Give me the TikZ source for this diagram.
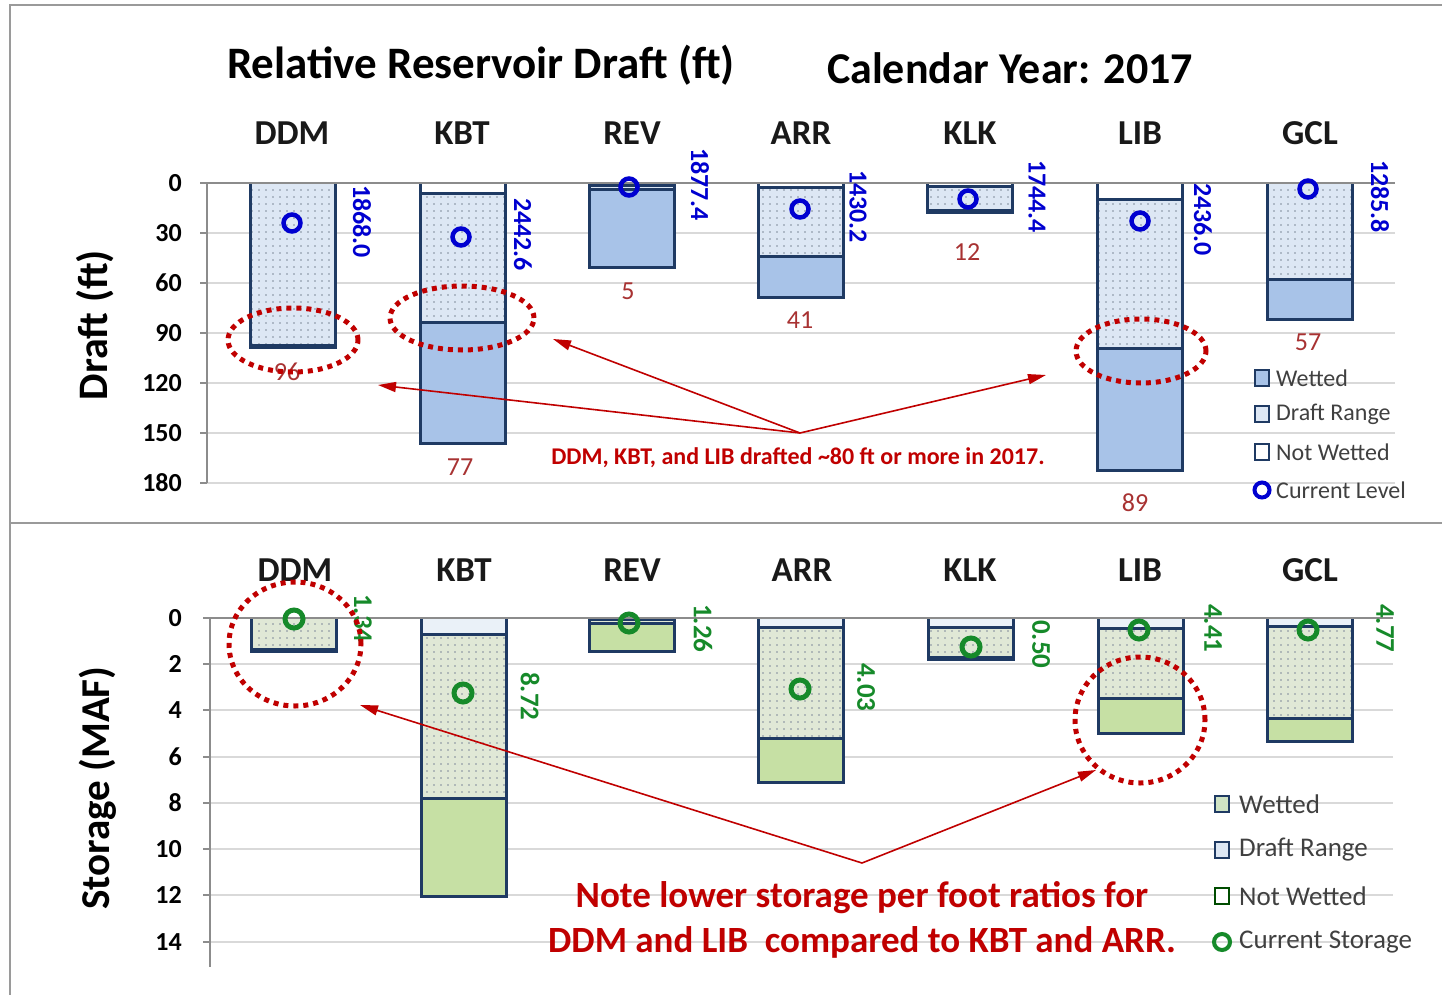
\documentclass[tikz,border=0pt]{standalone}
\usepackage{fontspec}
\setmainfont{Carlito}
\usetikzlibrary{patterns.meta,arrows.meta,shapes.geometric}
\definecolor{frameG}{HTML}{9A9A9A}
\definecolor{gridG}{HTML}{D9D9D9}
\definecolor{axisG}{HTML}{8C8C8C}
\definecolor{navy}{HTML}{1F3A63}
\definecolor{wetB}{HTML}{A8C3E8}
\definecolor{drB}{HTML}{DDE7F4}
\definecolor{wetG}{HTML}{C6E0A4}
\definecolor{drG}{HTML}{E0E8D6}
\definecolor{nwG}{HTML}{EAF1F8}
\definecolor{valB}{HTML}{0000D0}
\definecolor{valG}{HTML}{168A2A}
\definecolor{numR}{HTML}{A83232}
\definecolor{noteR}{HTML}{C00000}
\definecolor{legT}{HTML}{404040}
\definecolor{dotC}{HTML}{7F8A9A}
\newcommand\resbar[8]{%
  \fill[#8] (#1,#2) rectangle (#1+85,#3);
  \fill[#7] (#1,#3) rectangle (#1+85,#4);
  \fill[pattern={Dots[distance=7pt,radius=0.9pt]},pattern color=dotC] (#1,#3) rectangle (#1+85,#4);
  \fill[#6] (#1,#4) rectangle (#1+85,#5);
  \draw[barline] (#1,#2) -- (#1,#5) -- (#1+85,#5) -- (#1+85,#2);
  \ifdim#2pt=#3pt\else\draw[barline] (#1,#3) -- (#1+85,#3);\fi
  \draw[barline] (#1,#4) -- (#1+85,#4);
}
\tikzset{
  barline/.style={draw=navy, line width=3pt},
  gridl/.style={draw=gridG, line width=1.3pt},
  axisl/.style={draw=axisG, line width=1.4pt},
  cat/.style={font=\bfseries\fontsize{35}{35}\selectfont, text=black!90, inner sep=0},
  tick/.style={font=\bfseries\fontsize{26}{26}\selectfont, anchor=east, inner sep=0},
  valb/.style={font=\bfseries\fontsize{26}{26}\selectfont, text=valB, rotate=-90, anchor=west, inner sep=0},
  valg/.style={font=\bfseries\fontsize{27}{27}\selectfont, text=valG, rotate=-90, anchor=west, inner sep=0},
  numr/.style={font=\fontsize{26}{26}\selectfont, text=numR, inner sep=0},
  curB/.style={circle, draw=valB, line width=4.5pt, minimum size=17pt, inner sep=0},
  curG/.style={circle, draw=valG, line width=5pt, minimum size=18pt, inner sep=0},
  ell/.style={ellipse, draw=noteR, line width=5pt, dash pattern=on 5pt off 5pt, inner sep=0},
  redarrow/.style={draw=noteR, line width=1.6pt, -{Triangle[length=18pt,width=10pt]}},
  legsq/.style={rectangle, draw=navy, line width=2.2pt, minimum width=14pt, minimum height=16pt, inner sep=0},
  legtxt/.style={anchor=west, text=legT, inner sep=0},
  ytitle/.style={font=\bfseries\fontsize{42}{42}\selectfont, rotate=90, inner sep=0},
}
\begin{document}
\begin{tikzpicture}[x=1pt,y=-1pt]
\useasboundingbox (0,0) rectangle (1442,995);
\fill[white] (0,0) rectangle (1442,995);
% frame
\draw[draw=frameG, line width=2pt] (10,995) -- (10,5) -- (1442,5);
\draw[draw=frameG, line width=2pt] (10,523) -- (1442,523);
% titles
\node[font=\bfseries\fontsize{45}{45}\selectfont, inner sep=0] (title) at (481,65) {Relative Reservoir Draft (ft)};
\node[font=\bfseries\fontsize{44}{44}\selectfont, inner sep=0] (year) at (1010,68) {Calendar Year: 2017};
% ---------------- top chart grid
\foreach \v/\y in {30/233,60/283,90/333,120/383,150/433,180/483}{
  \draw[gridl] (207,\y) -- (1395,\y);
  \draw[axisl] (200,\y) -- (207,\y);
}
\draw[axisl] (207,183) -- (207,483);
\foreach \v/\y in {0/183,30/233,60/283,90/333,120/383,150/433,180/483}{
  \node[tick] (tt\v) at (182,\y) {\v};
}
\node[ytitle] (ytT) at (95,325) {Draft (ft)};
% top bars
\resbar{250}{183}{183}{345}{347}{wetB}{drB}{white}
\resbar{420}{183}{194}{322}{443}{wetB}{drB}{white}
\resbar{589}{183}{186}{190}{267}{wetB}{drB}{white}
\resbar{758}{183}{188}{256}{297}{wetB}{drB}{white}
\resbar{927}{183}{187}{210}{212}{wetB}{drB}{white}
\resbar{1097}{183}{200}{348}{470}{wetB}{drB}{white}
\resbar{1267}{183}{183}{279}{319}{wetB}{drB}{white}
\draw[axisl] (200,183) -- (1395,183);
% categories top
\foreach \n/\x in {DDM/292,KBT/462,REV/632,ARR/801,KLK/970,LIB/1140,GCL/1310}{
  \node[cat] (ct\n) at (\x,133) {\n};
}
% current level markers
\node[curB] (cl1) at (292,223) {};
\node[curB] (cl2) at (461,237) {};
\node[curB] (cl3) at (629,187) {};
\node[curB] (cl4) at (800,209) {};
\node[curB] (cl5) at (968,199) {};
\node[curB] (cl6) at (1140,221) {};
\node[curB] (cl7) at (1308,189) {};
% elevation labels
\node[valb] (el1) at (362,185) {1868.0};
\node[valb] (el2) at (523,198) {2442.6};
\node[valb] (el3) at (700,148) {1877.4};
\node[valb] (el4) at (858,170) {1430.2};
\node[valb] (el5) at (1037,160) {1744.4};
\node[valb] (el6) at (1203,183) {2436.0};
\node[valb] (el7) at (1380,160) {1285.8};
% draft numbers
\node[numr] (dn1) at (287,372) {96};
\node[numr] (dn2) at (460,467) {77};
\node[numr] (dn3) at (628,291) {5};
\node[numr] (dn4) at (800,320) {41};
\node[numr] (dn5) at (967,252) {12};
\node[numr] (dn6) at (1135,503) {89};
\node[numr] (dn7) at (1308,342) {57};
% legend top
\node[legsq, fill=wetB] (lq1) at (1262,378) {};
\node[legsq, fill=drB] (lq2) at (1262,414) {};
\node[legsq, fill=white] (lq3) at (1262,452) {};
\node[circle, draw=valB, line width=4pt, minimum size=15pt, inner sep=0] (lq4) at (1262,490) {};
\node[legtxt, font=\fontsize{24}{24}\selectfont] (lt1) at (1276,378) {Wetted};
\node[legtxt, font=\fontsize{24}{24}\selectfont] (lt2) at (1276,414) {Draft Range};
\node[legtxt, font=\fontsize{24}{24}\selectfont] (lt3) at (1276,452) {Not Wetted};
\node[legtxt, font=\fontsize{24}{24}\selectfont] (lt4) at (1276,490) {Current Level};
% ellipses top
\node[ell, minimum width=130pt, minimum height=64pt] (eT1) at (293,340) {};
\node[ell, minimum width=144pt, minimum height=64pt] (eT2) at (462,318) {};
\node[ell, minimum width=130pt, minimum height=64pt] (eT3) at (1141,351) {};
% arrows top
\coordinate (hubT) at (800,433);
\coordinate (aT1) at (378,385);
\coordinate (aT2) at (553,339);
\coordinate (aT3) at (1046,375);
\draw[redarrow] (hubT) -- (aT1);
\draw[redarrow] (hubT) -- (aT2);
\draw[redarrow] (hubT) -- (aT3);
\node[font=\bfseries\fontsize{24}{24}\selectfont, text=noteR, inner sep=0] (noteT) at (798,458) {DDM, KBT, and LIB drafted \textasciitilde80 ft or more in 2017.};
% ---------------- bottom chart grid
\foreach \v/\y in {2/664,4/710,6/757,8/803,10/849,12/895,14/942}{
  \draw[gridl] (210,\y) -- (1393,\y);
  \draw[axisl] (203,\y) -- (210,\y);
}
\draw[axisl] (210,618) -- (210,967);
\foreach \v/\y in {0/618,2/664,4/710,6/757,8/803,10/849,12/895,14/942}{
  \node[tick] (tb\v) at (182,\y) {\v};
}
\node[ytitle, font=\bfseries\fontsize{41}{41}\selectfont] (ytB) at (98,788) {Storage (MAF)};
% bottom bars
\resbar{251}{618}{618}{649}{651}{wetG}{drG}{nwG}
\resbar{421}{618}{634}{798}{896}{wetG}{drG}{nwG}
\resbar{589}{618}{619}{623}{651}{wetG}{drG}{nwG}
\resbar{758}{618}{627}{738}{782}{wetG}{drG}{nwG}
\resbar{928}{618}{627}{657}{659}{wetG}{drG}{nwG}
\resbar{1098}{618}{628}{698}{733}{wetG}{drG}{nwG}
\resbar{1267}{618}{626}{718}{741}{wetG}{drG}{nwG}
\draw[axisl] (203,618) -- (1393,618);
\foreach \n/\x in {DDM/295,KBT/464,REV/632,ARR/802,KLK/970,LIB/1140,GCL/1310}{
  \node[cat] (cb\n) at (\x,570) {\n};
}
\node[curG] (cs1) at (294,619) {};
\node[curG] (cs2) at (463,693) {};
\node[curG] (cs3) at (629,623) {};
\node[curG] (cs4) at (800,689) {};
\node[curG] (cs5) at (971,647) {};
\node[curG] (cs6) at (1139,630) {};
\node[curG] (cs7) at (1308,630) {};
\node[valg] (sv1) at (363,594) {1.34};
\node[valg] (sv2) at (530,672) {8.72};
\node[valg] (sv3) at (703,604) {1.26};
\node[valg] (sv4) at (866,663) {4.03};
\node[valg] (sv5) at (1041,620) {0.50};
\node[valg] (sv6) at (1213,604) {4.41};
\node[valg] (sv7) at (1385,604) {4.77};
% legend bottom
\node[legsq, fill=wetG!60!drB] (lb1) at (1222,804) {};
\node[legsq, fill=drB] (lb2) at (1222,850) {};
\node[legsq, fill=white, draw=black!70!green] (lb3) at (1222,896) {};
\node[circle, draw=valG, line width=4pt, minimum size=16pt, inner sep=0] (lb4) at (1222,942) {};
\node[legtxt, font=\fontsize{27}{27}\selectfont] (lbt1) at (1239,804) {Wetted};
\node[legtxt, font=\fontsize{27}{27}\selectfont] (lbt2) at (1239,850) {Draft Range};
\node[legtxt, font=\fontsize{27}{27}\selectfont] (lbt3) at (1239,896) {Not Wetted};
\node[legtxt, font=\fontsize{27}{27}\selectfont] (lbt4) at (1239,942) {Current Storage};
% ellipses bottom
\node[ell, minimum width=132pt, minimum height=124pt] (eB1) at (295,644) {};
\node[ell, minimum width=130pt, minimum height=126pt] (eB2) at (1140,720) {};
% arrows bottom
\coordinate (hubB) at (862,863);
\coordinate (aB1) at (360,705);
\coordinate (aB2) at (1096,770);
\draw[redarrow] (hubB) -- (aB1);
\draw[redarrow] (hubB) -- (aB2);
\node[font=\bfseries\fontsize{37}{45}\selectfont, text=noteR, align=center, inner sep=0] (noteB) at (862,920) {Note lower storage per foot ratios for\\DDM and LIB\ \ compared to KBT and ARR.};
\end{tikzpicture}
\end{document}
